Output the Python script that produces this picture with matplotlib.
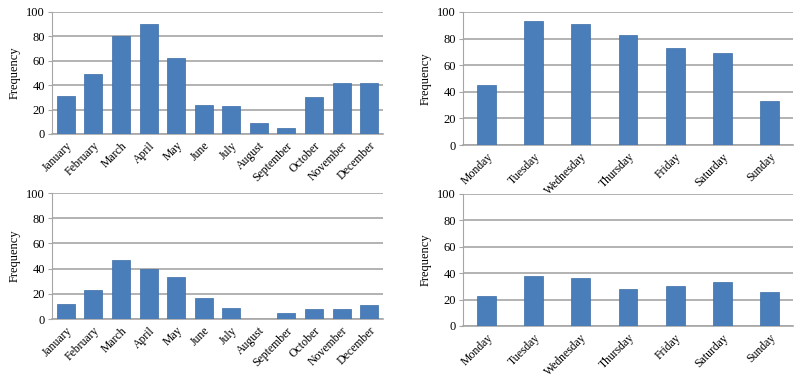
import matplotlib.pyplot as plt

plt.rcParams['font.family'] = ['Liberation Serif', 'DejaVu Serif']

months = ["January", "February", "March", "April", "May", "June", "July",
          "August", "September", "October", "November", "December"]
days = ["Monday", "Tuesday", "Wednesday", "Thursday", "Friday", "Saturday", "Sunday"]

month_top = [31, 49, 80, 90, 62, 24, 23, 9, 5, 30, 42, 42]
day_top = [45, 93, 91, 83, 73, 69, 33]
month_bottom = [12, 23, 47, 40, 33, 17, 9, 0, 5, 8, 8, 11]
day_bottom = [23, 38, 36, 28, 30, 33, 26]

bar_color = "#4a7ebb"
grid_color = "#a6a6a6"

fig = plt.figure(figsize=(8, 3.78), dpi=100)
W, H = 800, 378

# axes rectangles in pixels: left, top, right, bottom
boxes = [
    (52, 12, 383, 134),
    (463, 12, 793, 145),
    (52, 193, 383, 319),
    (463, 194, 793, 326),
]
panels = [
    (months, month_top, 0.65),
    (days, day_top, 0.4),
    (months, month_bottom, 0.65),
    (days, day_bottom, 0.4),
]

for (l, t, r, b), (labels, vals, width) in zip(boxes, panels):
    ax = fig.add_axes([l / W, 1 - b / H, (r - l) / W, (b - t) / H])
    x = range(len(labels))
    ax.bar(x, vals, width=width, color=bar_color, edgecolor="#3c6da8",
           linewidth=0.5, zorder=3)
    ax.set_ylim(0, 100)
    ax.set_xlim(-0.5, len(labels) - 0.5)
    ax.set_yticks(range(0, 101, 20))
    ax.yaxis.grid(True, color=grid_color, linewidth=1.2, zorder=0)
    ax.set_xticks(list(x))
    ax.set_xticklabels(labels, rotation=45, ha="right", rotation_mode="anchor")
    ax.tick_params(axis="x", length=0, pad=4, labelsize=8.5)
    ax.tick_params(axis="y", length=3, color=grid_color, pad=2, labelsize=9)
    for s in ["top", "right"]:
        ax.spines[s].set_visible(False)
    ax.spines["left"].set_color(grid_color)
    ax.spines["bottom"].set_color(grid_color)
    ax.spines["bottom"].set_linewidth(1.2)
    ax.set_ylabel("Frequency", fontsize=9, labelpad=4)

fig.savefig("out.png", dpi=100)
